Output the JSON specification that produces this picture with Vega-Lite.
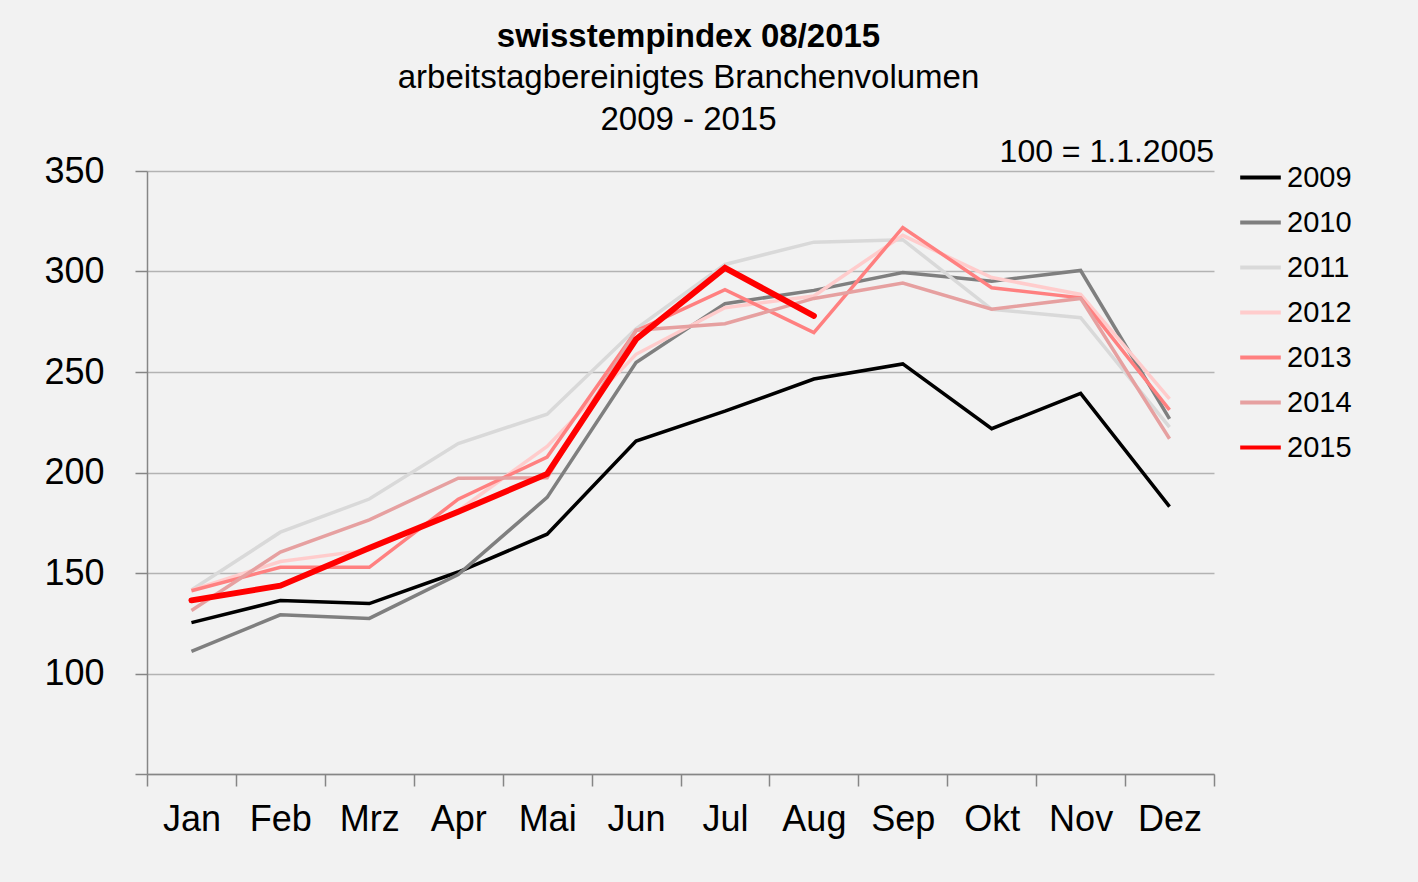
{
  "$schema": "https://vega.github.io/schema/vega-lite/v6.json",
  "width": 1067,
  "height": 603,
  "autosize": {"type": "none"},
  "padding": {"left": 147, "top": 171, "right": 204, "bottom": 108},
  "background": "#f2f2f2",
  "title": {
    "text": "swisstempindex 08/2015",
    "subtitle": ["arbeitstagbereinigtes Branchenvolumen", "2009 - 2015"],
    "anchor": "middle",
    "frame": "group",
    "dx": 8,
    "offset": -1,
    "font": "Liberation Sans",
    "fontSize": 33,
    "fontWeight": "bold",
    "color": "#000000",
    "subtitleFont": "Liberation Sans",
    "subtitleFontSize": 33,
    "subtitleColor": "#000000",
    "subtitleLineHeight": 42,
    "subtitlePadding": 8
  },
  "datasets": {
    "index": [
      {"Jahr": "2009", "Monat": "Jan", "Index": 125.3},
      {"Jahr": "2009", "Monat": "Feb", "Index": 136.3},
      {"Jahr": "2009", "Monat": "Mrz", "Index": 134.8},
      {"Jahr": "2009", "Monat": "Apr", "Index": 150.5},
      {"Jahr": "2009", "Monat": "Mai", "Index": 169.3},
      {"Jahr": "2009", "Monat": "Jun", "Index": 215.6},
      {"Jahr": "2009", "Monat": "Jul", "Index": 230.5},
      {"Jahr": "2009", "Monat": "Aug", "Index": 246.5},
      {"Jahr": "2009", "Monat": "Sep", "Index": 254.0},
      {"Jahr": "2009", "Monat": "Okt", "Index": 221.8},
      {"Jahr": "2009", "Monat": "Nov", "Index": 239.4},
      {"Jahr": "2009", "Monat": "Dez", "Index": 183.0},
      {"Jahr": "2010", "Monat": "Jan", "Index": 111.0},
      {"Jahr": "2010", "Monat": "Feb", "Index": 129.2},
      {"Jahr": "2010", "Monat": "Mrz", "Index": 127.4},
      {"Jahr": "2010", "Monat": "Apr", "Index": 149.2},
      {"Jahr": "2010", "Monat": "Mai", "Index": 187.6},
      {"Jahr": "2010", "Monat": "Jun", "Index": 254.7},
      {"Jahr": "2010", "Monat": "Jul", "Index": 284.0},
      {"Jahr": "2010", "Monat": "Aug", "Index": 290.6},
      {"Jahr": "2010", "Monat": "Sep", "Index": 299.5},
      {"Jahr": "2010", "Monat": "Okt", "Index": 295.2},
      {"Jahr": "2010", "Monat": "Nov", "Index": 300.5},
      {"Jahr": "2010", "Monat": "Dez", "Index": 226.7},
      {"Jahr": "2011", "Monat": "Jan", "Index": 141.5},
      {"Jahr": "2011", "Monat": "Feb", "Index": 170.3},
      {"Jahr": "2011", "Monat": "Mrz", "Index": 186.8},
      {"Jahr": "2011", "Monat": "Apr", "Index": 214.4},
      {"Jahr": "2011", "Monat": "Mai", "Index": 229.0},
      {"Jahr": "2011", "Monat": "Jun", "Index": 271.5},
      {"Jahr": "2011", "Monat": "Jul", "Index": 303.5},
      {"Jahr": "2011", "Monat": "Aug", "Index": 314.6},
      {"Jahr": "2011", "Monat": "Sep", "Index": 315.8},
      {"Jahr": "2011", "Monat": "Okt", "Index": 281.2},
      {"Jahr": "2011", "Monat": "Nov", "Index": 277.0},
      {"Jahr": "2011", "Monat": "Dez", "Index": 222.6},
      {"Jahr": "2012", "Monat": "Jan", "Index": 141.5},
      {"Jahr": "2012", "Monat": "Feb", "Index": 155.7},
      {"Jahr": "2012", "Monat": "Mrz", "Index": 161.5},
      {"Jahr": "2012", "Monat": "Apr", "Index": 181.0},
      {"Jahr": "2012", "Monat": "Mai", "Index": 213.0},
      {"Jahr": "2012", "Monat": "Jun", "Index": 258.8},
      {"Jahr": "2012", "Monat": "Jul", "Index": 282.0},
      {"Jahr": "2012", "Monat": "Aug", "Index": 287.8},
      {"Jahr": "2012", "Monat": "Sep", "Index": 318.0},
      {"Jahr": "2012", "Monat": "Okt", "Index": 297.0},
      {"Jahr": "2012", "Monat": "Nov", "Index": 288.6},
      {"Jahr": "2012", "Monat": "Dez", "Index": 236.6},
      {"Jahr": "2013", "Monat": "Jan", "Index": 141.2},
      {"Jahr": "2013", "Monat": "Feb", "Index": 152.8},
      {"Jahr": "2013", "Monat": "Mrz", "Index": 152.8},
      {"Jahr": "2013", "Monat": "Apr", "Index": 186.7},
      {"Jahr": "2013", "Monat": "Mai", "Index": 207.7},
      {"Jahr": "2013", "Monat": "Jun", "Index": 270.4},
      {"Jahr": "2013", "Monat": "Jul", "Index": 291.0},
      {"Jahr": "2013", "Monat": "Aug", "Index": 269.6},
      {"Jahr": "2013", "Monat": "Sep", "Index": 321.9},
      {"Jahr": "2013", "Monat": "Okt", "Index": 291.9},
      {"Jahr": "2013", "Monat": "Nov", "Index": 286.9},
      {"Jahr": "2013", "Monat": "Dez", "Index": 231.2},
      {"Jahr": "2014", "Monat": "Jan", "Index": 131.3},
      {"Jahr": "2014", "Monat": "Feb", "Index": 160.4},
      {"Jahr": "2014", "Monat": "Mrz", "Index": 176.4},
      {"Jahr": "2014", "Monat": "Apr", "Index": 197.2},
      {"Jahr": "2014", "Monat": "Mai", "Index": 197.4},
      {"Jahr": "2014", "Monat": "Jun", "Index": 270.8},
      {"Jahr": "2014", "Monat": "Jul", "Index": 274.0},
      {"Jahr": "2014", "Monat": "Aug", "Index": 286.6},
      {"Jahr": "2014", "Monat": "Sep", "Index": 294.3},
      {"Jahr": "2014", "Monat": "Okt", "Index": 281.2},
      {"Jahr": "2014", "Monat": "Nov", "Index": 286.6},
      {"Jahr": "2014", "Monat": "Dez", "Index": 216.8},
      {"Jahr": "2015", "Monat": "Jan", "Index": 136.4},
      {"Jahr": "2015", "Monat": "Feb", "Index": 143.7},
      {"Jahr": "2015", "Monat": "Mrz", "Index": 162.4},
      {"Jahr": "2015", "Monat": "Apr", "Index": 180.5},
      {"Jahr": "2015", "Monat": "Mai", "Index": 199.3},
      {"Jahr": "2015", "Monat": "Jun", "Index": 266.3},
      {"Jahr": "2015", "Monat": "Jul", "Index": 301.8},
      {"Jahr": "2015", "Monat": "Aug", "Index": 277.9}
    ],
    "notiz": [
      {"Monat": "Dez", "Index": 350, "Text": "100 = 1.1.2005"}
    ]
  },
  "encoding": {
    "x": {
      "field": "Monat",
      "type": "ordinal",
      "sort": ["Jan", "Feb", "Mrz", "Apr", "Mai", "Jun", "Jul", "Aug", "Sep", "Okt", "Nov", "Dez"],
      "scale": {"type": "band", "paddingInner": 0, "paddingOuter": 0},
      "axis": {
        "title": null,
        "labelAngle": 0,
        "tickBand": "extent",
        "labelPadding": 16,
        "tickSize": 12
      }
    },
    "y": {
      "field": "Index",
      "type": "quantitative",
      "scale": {"domain": [50, 350], "nice": false, "zero": false},
      "axis": {
        "title": null,
        "values": [50, 100, 150, 200, 250, 300, 350],
        "labelExpr": "datum.value == 50 ? '' : datum.label",
        "labelPadding": 31,
        "tickSize": 12
      }
    }
  },
  "layer": [
    {
      "data": {"name": "index"},
      "transform": [{"filter": "datum.Jahr != '2015'"}],
      "mark": {"type": "line", "strokeWidth": 3.5, "strokeJoin": "miter", "strokeCap": "butt"},
      "encoding": {
        "color": {
          "field": "Jahr",
          "type": "nominal",
          "scale": {
            "domain": ["2009", "2010", "2011", "2012", "2013", "2014", "2015"],
            "range": ["#000000", "#7f7f7f", "#d9d9d9", "#ffcccc", "#ff8080", "#e6a0a0", "#ff0000"]
          },
          "legend": {
            "title": null,
            "orient": "none",
            "legendX": 1091,
            "legendY": -16,
            "symbolType": "stroke",
            "symbolSize": 1650,
            "symbolStrokeWidth": 4,
            "rowPadding": 7
          }
        },
        "detail": {"field": "Jahr"}
      }
    },
    {
      "data": {"name": "index"},
      "transform": [{"filter": "datum.Jahr == '2015'"}],
      "mark": {"type": "line", "strokeWidth": 6, "strokeJoin": "miter", "strokeCap": "round"},
      "encoding": {
        "color": {"field": "Jahr", "type": "nominal"}
      }
    },
    {
      "data": {"name": "notiz"},
      "mark": {
        "type": "text",
        "align": "right",
        "baseline": "alphabetic",
        "dy": -9,
        "font": "Liberation Sans",
        "fontSize": 32,
        "color": "#000000"
      },
      "encoding": {
        "x": {"field": "Monat", "type": "ordinal", "bandPosition": 1},
        "text": {"field": "Text"}
      }
    }
  ],
  "config": {
    "view": {"stroke": null},
    "font": "Liberation Sans",
    "axis": {
      "labelFont": "Liberation Sans",
      "labelFontSize": 36,
      "labelColor": "#000000",
      "domainColor": "#868686",
      "domainWidth": 1.5,
      "tickColor": "#868686",
      "tickWidth": 1.5
    },
    "axisY": {"grid": true, "gridColor": "#b3b3b3", "gridWidth": 1.3},
    "axisX": {"grid": false},
    "legend": {
      "labelFont": "Liberation Sans",
      "labelFontSize": 29,
      "labelColor": "#000000",
      "labelOffset": 4,
      "padding": 0
    }
  }
}
